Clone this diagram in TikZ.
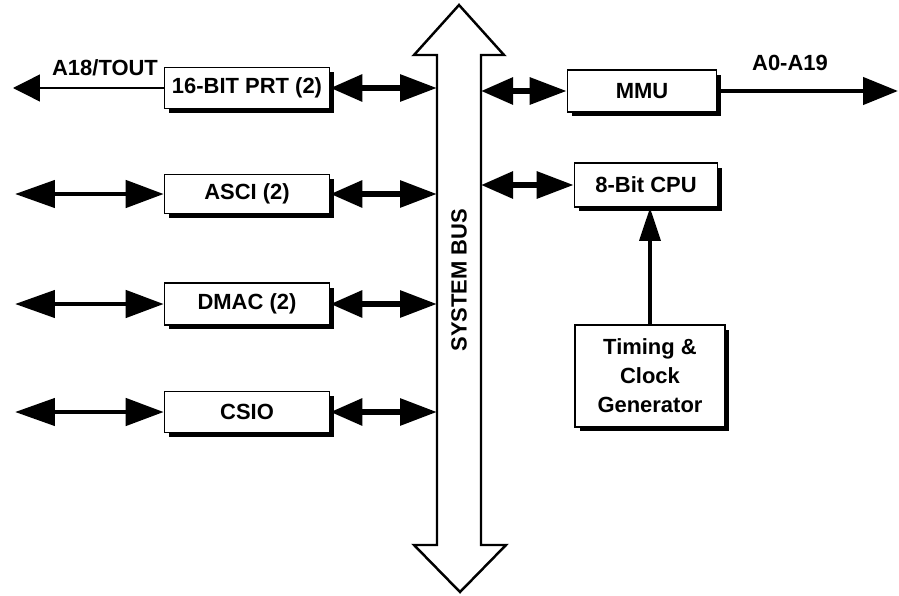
\documentclass[tikz,border=0pt]{standalone}
\usepackage{fontspec}
\setmainfont{Liberation Sans}
\usetikzlibrary{arrows.meta,shadows}
\tikzset{
    blok/.style={draw, fill=white, line width=0.9pt, align=center, inner sep=0pt,
    	font=\bfseries\fontsize{12.5}{16.5}\selectfont,
    	drop shadow={opacity=1, fill=black, shadow xshift=0.09cm, shadow yshift=-0.09cm}}
}
\tikzset{
    txt/.style={inner sep=0pt, font=\bfseries\fontsize{12.5}{15}\selectfont}
}
\tikzset{
    fat/.style={line width=0.09cm,
    	{Triangle[length=0.8cm, width=0.54cm]}-{Triangle[length=0.76cm, width=0.54cm]}},
    stub/.style={line width=0.12cm,
    	{Triangle[length=0.64cm, width=0.52cm]}-{Triangle[length=0.74cm, width=0.52cm]}}
}

\begin{document}
\begin{tikzpicture}[x=0.02cm, y=-0.02cm]
  \useasboundingbox (0,0) rectangle (899,595);

  \draw [line width=1.4pt, fill=white] (459,5) -- (504,55) -- (481,55) -- (481,545)
    -- (506,545) -- (460,592) -- (414,545) -- (437,545) -- (437,55) -- (414,55) -- cycle;
  \coordinate (busw) at (437,0);
  \coordinate (buse) at (481,0);
  \node (bus) [txt, rotate=90] at (459,280) {SYSTEM BUS};

  \node (prt) [blok, minimum width=3.3cm, minimum height=0.82cm] at (247,88) {16-BIT PRT (2)};
  \node (asci) [blok, minimum width=3.3cm, minimum height=0.78cm] at (247,194) {ASCI (2)};
  \node (dmac) [blok, minimum width=3.3cm, minimum height=0.84cm] at (247,304) {DMAC (2)};
  \node (csio) [blok, minimum width=3.3cm, minimum height=0.82cm] at (247,412) {CSIO};

  \node (mmu) [blok, minimum width=2.98cm, minimum height=0.84cm] at (642,91) {MMU};
  \node (cpu) [blok, minimum width=2.86cm, minimum height=0.88cm] at (646,185) {8-Bit CPU};
  \node (clk) [blok, minimum width=3cm, minimum height=2.04cm] at (650,376)
    {Timing \&\\Clock\\Generator};

  \node (tout) [txt] at (105,68) {A18/TOUT};
  \node (addr) [txt] at (790,63) {A0-A19};

  \coordinate (toutend) at (13,88);
  \coordinate (asciend) at (15,194);
  \coordinate (dmacend) at (15,304);
  \coordinate (csioend) at (15,412);
  \coordinate (addrend) at (898,91);

  \draw [line width=0.8pt, -{Triangle[length=0.54cm, width=0.54cm]}] (prt) -- (toutend);
  \draw [fat] (asciend) -- (asci);
  \draw [fat] (dmacend) -- (dmac);
  \draw [fat] (csioend) -- (csio);

  \draw [stub] (prt) -- (prt -| busw);
  \draw [stub] (asci) -- (asci -| busw);
  \draw [stub] (dmac) -- (dmac -| busw);
  \draw [stub] (csio) -- (csio -| busw);

  \draw [stub] (mmu -| buse) -- (mmu);
  \draw [stub] (cpu -| buse) -- (cpu);
  \draw [line width=0.09cm, -{Triangle[length=0.7cm, width=0.54cm]}] (mmu) -- (addrend);
  \draw [line width=0.07cm, -{Triangle[length=0.66cm, width=0.42cm]}]
    (clk.north) -- (clk.north |- cpu.south);
\end{tikzpicture}
\end{document}
